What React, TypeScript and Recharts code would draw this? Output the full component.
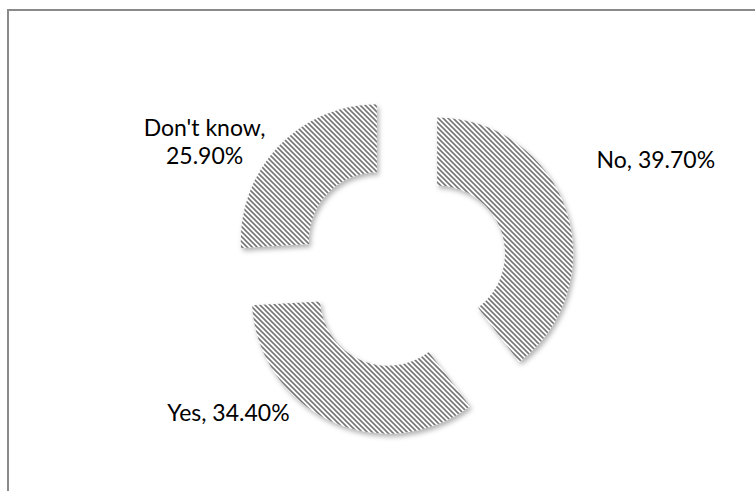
import { PieChart, Pie, Cell } from "recharts";

const categories = ["No", "Yes", "Don't know"];
const shares = [39.7, 34.4, 25.9];

const data = categories.map((name, i) => ({ name, value: shares[i] }));

// layout
const W = 755;
const H = 491;
const CX = 398;
const CY = 260;
const INNER = 68;
const OUTER = 136;
const EXPLODE = 36;
const FONT = "Lato, 'Noto Sans', sans-serif";
const FONT_SIZE = 23;
// label placement relative to slice mid angle (deg offset, radius)
const labelLayout = [
  { dAngle: 2.9, r: 277 },
  { dAngle: -23.2, r: 228 },
  { dAngle: 11.8, r: 227 },
];

const total = shares.reduce((a, b) => a + b, 0);
const RAD = Math.PI / 180;

function midAngleOf(i: number) {
  const before = shares.slice(0, i).reduce((a, b) => a + b, 0);
  const mid = (before + shares[i] / 2) / total;
  return 90 - mid * 360;
}

function renderLabel(visible: number) {
  return (props: any) => {
    const { index } = props;
    if (index !== visible) return null;
    const lay = labelLayout[index];
    const a = (midAngleOf(index) + lay.dAngle) * RAD;
    const x = CX + lay.r * Math.cos(a);
    const y = CY - lay.r * Math.sin(a);
    const name = categories[index];
    const pct = `${shares[index].toFixed(2)}%`;
    if (name.length > 6) {
      return (
        <text x={x} y={y} textAnchor="middle" fontFamily={FONT} fontSize={FONT_SIZE} fill="#000">
          <tspan x={x} y={y - 14} dominantBaseline="central">{name},</tspan>
          <tspan x={x} y={y + 14} dominantBaseline="central">{pct}</tspan>
        </text>
      );
    }
    return (
      <text x={x} y={y} textAnchor="middle" dominantBaseline="central" fontFamily={FONT} fontSize={FONT_SIZE} fill="#000">
        {`${name}, ${pct}`}
      </text>
    );
  };
}

export default function App() {
  return (
    <div style={{ position: "absolute", left: 0, top: 0, width: W, height: H, overflow: "hidden", background: "#fff" }}>
      <div
        style={{
          position: "absolute",
          left: 7,
          top: 9,
          width: W,
          height: H,
          borderTop: "2px solid #8a8a8a",
          borderLeft: "2px solid #8a8a8a",
          boxSizing: "border-box",
        }}
      />
      <div style={{ position: "absolute", left: 0, top: 0 }}>
        <PieChart width={W} height={H}>
          <defs>
            <pattern id="hatch" width={5} height={5} patternUnits="userSpaceOnUse">
              <rect x={0} y={0} width={5} height={5} fill="#ffffff" />
              <path d="M-1,-1 L6,6 M-1,4 L1,6 M4,-1 L6,1" stroke="#767676" strokeWidth={1.6} />
            </pattern>
            <filter id="shadow" x="-20%" y="-20%" width="140%" height="140%">
              <feDropShadow dx={2} dy={3} stdDeviation={2.5} floodColor="#000" floodOpacity={0.3} />
            </filter>
          </defs>
          {data.map((_, k) => {
            const a = midAngleOf(k) * RAD;
            return (
              <Pie
                key={k}
                data={data}
                dataKey="value"
                nameKey="name"
                cx={CX + EXPLODE * Math.cos(a)}
                cy={CY - EXPLODE * Math.sin(a)}
                innerRadius={INNER}
                outerRadius={OUTER}
                startAngle={90}
                endAngle={-270}
                stroke="none"
                labelLine={false}
                label={renderLabel(k)}
                isAnimationActive={false}
              >
                {data.map((__, i) => (
                  <Cell
                    key={i}
                    fill={i === k ? "url(#hatch)" : "none"}
                    filter={i === k ? "url(#shadow)" : undefined}
                  />
                ))}
              </Pie>
            );
          })}
        </PieChart>
      </div>
    </div>
  );
}
